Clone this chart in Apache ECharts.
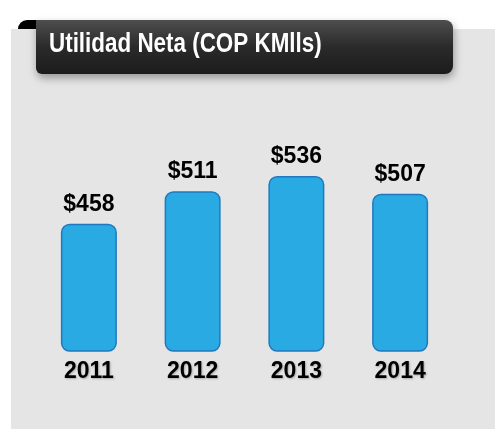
<!DOCTYPE html>
<html>
<head>
<meta charset="utf-8">
<script src="https://cdn.jsdelivr.net/npm/echarts@6/dist/echarts.min.js"></script>
<style>
html,body{margin:0;padding:0;background:#fff;}
#chart{width:495px;height:429px;}
</style>
</head>
<body>
<div id="chart"></div>
<script>
var titleText = 'Utilidad Neta (COP KMlls)';
var years = ['2011', '2012', '2013', '2014'];
var netIncome = [458, 511, 536, 507];

var chart = echarts.init(document.getElementById('chart'), null, {renderer: 'canvas'});
chart.setOption({
  animation: false,
  backgroundColor: '#ffffff',
  graphic: [
    {type: 'rect', z: 0, shape: {x: 18, y: 20, width: 30, height: 14, r: [9, 0, 0, 0]}, style: {fill: '#000000'}},
    {type: 'rect', z: 1, shape: {x: 11, y: 29, width: 484, height: 400}, style: {fill: '#e5e5e5'}},
    {type: 'rect', z: 3, shape: {x: 36, y: 20, width: 417, height: 54, r: [0, 8, 8, 6]},
      style: {
        fill: {type: 'linear', x: 0, y: 0, x2: 0, y2: 1,
          colorStops: [{offset: 0, color: '#4e4e4e'}, {offset: 0.5, color: '#2a2a2a'}, {offset: 1, color: '#1c1c1c'}]},
        shadowBlur: 8, shadowOffsetY: 4, shadowOffsetX: 1, shadowColor: 'rgba(0,0,0,0.35)'
      }},
    {type: 'text', z: 4, x: 49, y: 45, scaleX: 0.83, scaleY: 1,
      style: {
        text: titleText, x: 0, y: 0,
        fill: '#ffffff',
        font: 'bold 27px "Liberation Sans", Arial, sans-serif',
        align: 'left', verticalAlign: 'middle'
      }}
  ],
  grid: {left: 37, right: 43, top: 100, bottom: 78, containLabel: false},
  xAxis: {
    type: 'category',
    z: 5,
    data: years,
    axisLine: {show: false},
    axisTick: {show: false},
    axisLabel: {
      margin: 9,
      interval: 0,
      color: '#000000',
      fontFamily: 'Arial, "Liberation Sans", sans-serif',
      fontWeight: 'bold',
      fontSize: 23,
      textShadowColor: 'rgba(0,0,0,0.25)',
      textShadowBlur: 2,
      textShadowOffsetX: 1,
      textShadowOffsetY: 1
    }
  },
  yAxis: {
    type: 'value',
    min: 250,
    max: 660,
    show: false,
    splitLine: {show: false}
  },
  series: [{
    type: 'bar',
    z: 6,
    data: netIncome,
    barWidth: 56,
    itemStyle: {
      color: '#29aae2',
      borderColor: '#2178c0',
      borderWidth: 1.5,
      borderRadius: 8
    },
    label: {
      show: true,
      position: 'top',
      distance: 8,
      formatter: function (p) { return '$' + p.value; },
      color: '#000000',
      fontFamily: 'Arial, "Liberation Sans", sans-serif',
      fontWeight: 'bold',
      fontSize: 23
    }
  }]
});
</script>
</body>
</html>
